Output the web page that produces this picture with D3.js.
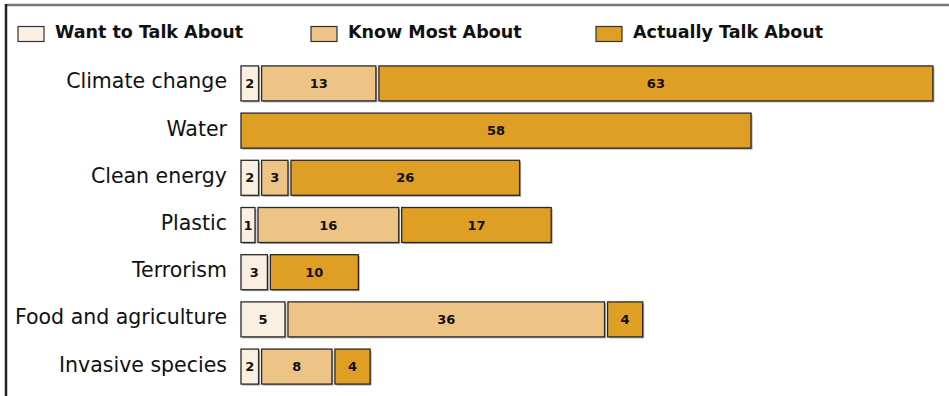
<!DOCTYPE html>
<html>
<head>
<meta charset="utf-8">
<script src="https://cdn.jsdelivr.net/npm/d3@7"></script>
<style>
	body { margin: 0; background: #fff; }
	svg { display: block; font-family: "DejaVu Sans", Verdana, sans-serif; }
</style>
</head>
<body>
<div id="chart"></div>
<script>

// Data
var categories = ["Climate change", "Water", "Clean energy", "Plastic", "Terrorism", "Food and agriculture", "Invasive species"];
var seriesNames = ["Want to Talk About", "Know Most About", "Actually Talk About"];
var wantValues = [2, 0, 2, 1, 3, 5, 2];
var knowValues = [13, 0, 3, 16, 0, 36, 8];
var actuallyValues = [63, 58, 26, 17, 10, 4, 4];
var seriesColors = ["#faefe1", "#eec486", "#df9e24"];

// Drawing parameters
var width = 949, height = 396;
var barX0 = 241;
var segGap = 3;
var minSegWidth = 14;
var barHeight = 35;

var svg = d3.select("#chart").append("svg")
	.attr("width", width).attr("height", height);

// Frame
svg.append("line")
	.attr("x1", 6).attr("y1", 5).attr("x2", width).attr("y2", 5)
	.attr("stroke", "#777").attr("stroke-width", 2.5);
svg.append("line")
	.attr("x1", 6).attr("y1", 4).attr("x2", 6).attr("y2", height)
	.attr("stroke", "#222").attr("stroke-width", 2.5);

// Legend
var legendX = [18, 311, 596];
var gLegend = svg.append("g");
seriesNames.forEach(function(name, i) {
	gLegend.append("rect")
		.attr("x", legendX[i]).attr("y", 26.5)
		.attr("width", 26).attr("height", 15)
		.attr("fill", seriesColors[i])
		.attr("stroke", "#333").attr("stroke-width", 1.2);
	gLegend.append("text")
		.attr("x", legendX[i] + 37).attr("y", 38)
		.attr("font-size", 17.5).attr("font-weight", "bold")
		.attr("fill", "#111")
		.text(name);
});

// Scales
var x = d3.scaleLinear().domain([0, 63]).range([0, 554]);
var y = d3.scaleBand().domain(categories).range([61, 389]).paddingInner(0.25).paddingOuter(0.1);

var rows = categories.map(function(c, i) {
	return { name: c, values: [wantValues[i], knowValues[i], actuallyValues[i]] };
});

var gRows = svg.selectAll("g.row").data(rows).enter().append("g")
	.attr("class", "row")
	.attr("transform", function(d) {
		return "translate(0," + (y(d.name) + y.bandwidth() / 2 - barHeight / 2) + ")";
	});

gRows.append("text")
	.attr("x", 227).attr("y", barHeight / 2 - 1)
	.attr("text-anchor", "end").attr("dominant-baseline", "middle")
	.attr("font-size", 20.5).attr("fill", "#111")
	.text(function(d) { return d.name; });

gRows.each(function(d) {
	var g = d3.select(this);
	var cx = barX0;
	d.values.forEach(function(v, i) {
		if (v === 0) return;
		var w = Math.max(x(v), minSegWidth);
		// shadow
		g.append("rect")
			.attr("x", cx + 1.5).attr("y", 1.5)
			.attr("width", w).attr("height", barHeight)
			.attr("fill", "#aaa");
		g.append("rect")
			.attr("x", cx).attr("y", 0)
			.attr("width", w).attr("height", barHeight)
			.attr("fill", seriesColors[i])
			.attr("stroke", "#2a2a2a").attr("stroke-width", 1.3);
		g.append("text")
			.attr("x", cx + w / 2).attr("y", barHeight / 2 + 1)
			.attr("text-anchor", "middle").attr("dominant-baseline", "middle")
			.attr("font-size", 13).attr("font-weight", "bold").attr("fill", "#111")
			.text(v);
		cx += w + segGap;
	});
});

</script>
</body>
</html>
